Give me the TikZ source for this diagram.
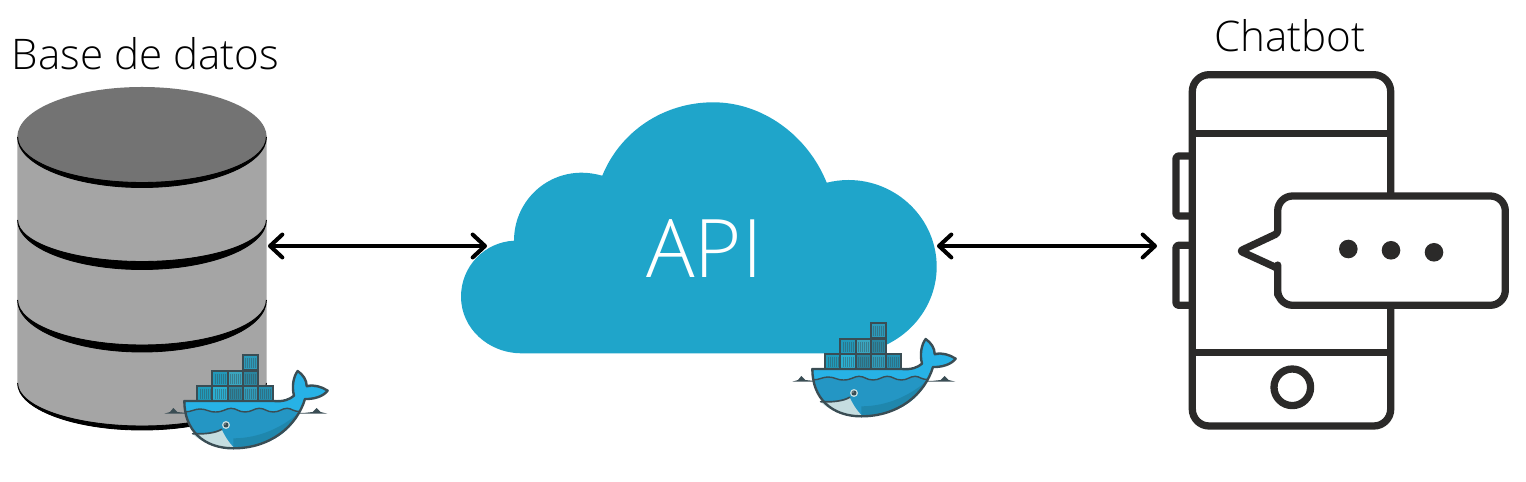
\documentclass[tikz,border=0pt]{standalone}
\usepackage{fontspec}
\setmainfont{Open Sans}
\newfontfamily\apifont{Open Sans Light}
\usepackage{xcolor}
\usetikzlibrary{arrows.meta,positioning}
\definecolor{mcloud}{HTML}{1FA5CA}
\definecolor{mbody}{HTML}{A5A5A5}
\definecolor{mtop}{HTML}{737373}
\definecolor{mphone}{HTML}{2B2A29}
\definecolor{mhull}{HTML}{3A4D54}
\definecolor{msea}{HTML}{2496C4}
\definecolor{mdeep}{HTML}{1F87AD}
\definecolor{msky}{HTML}{27B2E6}
\definecolor{mjaw}{HTML}{C5DDE0}
\tikzstyle{heading}=[anchor=base, inner sep=0pt, font=\apifont\fontsize{24}{28}\selectfont]
\tikzstyle{phone}=[draw=mphone, line width=4.15pt, line join=round]
\tikzstyle{link}=[black, line width=2.1pt, {Straight Barb[length=7pt,width=13pt,line width=2.3pt,round]}-{Straight Barb[length=7pt,width=13pt,line width=2.3pt,round]}]
\tikzstyle{hull}=[draw=mhull, line width=1.35pt, line join=round]
\tikzset{
  whale/.pic={
    \begin{scope}[x=0.006667cm,y=-0.006667cm]
      % sea line
      \fill[mhull] (43,221) -- (60,216) -- (70,204) -- (82,216) -- (110,219) -- (460,219) -- (488,216) -- (500,204) -- (512,216) -- (532,221) -- cycle;
      % containers
      \foreach \bx/\by/\bw/\bcol in {142/138/45/1F9CBC,187/138/46/2AB0D2,233/138/46/2A86A0,279/138/45/2F9CBA,324/138/45/2590B0,
                                     187/93/46/2299BA,233/93/46/3AA6C0,279/93/45/2A86A0,279/46/45/2C9ABA}{
        \definecolor{mbox}{HTML}{\bcol}
        \fill[mbox] (\bx,\by) rectangle +(\bw,45);
        \foreach \sx in {8,14,...,38}
          \draw[mhull, opacity=.45, line width=.35pt] (\bx+\sx,\by+8) -- (\bx+\sx,\by+38);
        \draw[mhull, line width=1.05pt] (\bx,\by) rectangle +(\bw,45);
      }
      % body
      \path[fill=msea] (103,183) -- (370,183) .. controls (400,186) and (420,178) .. (432,167)
        .. controls (425,140) and (430,110) .. (443,93) .. controls (460,105) and (470,120) .. (470,138)
        .. controls (490,133) and (515,140) .. (533,152) .. controls (520,170) and (490,178) .. (465,177)
        .. controls (440,260) and (360,325) .. (250,325) .. controls (160,325) and (103,270) .. (103,183) -- cycle;
      \fill[mdeep] (250,295) .. controls (330,295) and (400,260) .. (447,218) .. controls (420,280) and (350,325) .. (250,325) -- cycle;
      \fill[msky] (106,186) -- (370,186) .. controls (400,189) and (420,181) .. (434,170)
        .. controls (428,140) and (432,115) .. (443,97) .. controls (458,110) and (467,125) .. (468,145)
        .. controls (490,137) and (510,143) .. (528,152) .. controls (515,167) and (490,175) .. (462,174)
        -- (452,214) .. controls (430,216) and (425,205) .. (412,205) .. controls (395,205) and (390,216) .. (370,216)
        .. controls (350,216) and (345,205) .. (328,205) .. controls (312,205) and (305,216) .. (285,216)
        .. controls (265,216) and (260,205) .. (243,205) .. controls (228,205) and (220,216) .. (197,216)
        .. controls (175,216) and (170,207) .. (150,207) .. controls (135,207) and (125,215) .. (106,215) -- cycle;
      \fill[mjaw] (128,282) .. controls (160,283) and (195,280) .. (215,268) .. controls (225,290) and (238,310) .. (252,323)
        .. controls (205,322) and (155,310) .. (128,282) -- cycle;
      \draw[mhull, line width=.95pt, line cap=round] (128,281) .. controls (160,283) and (195,280) .. (215,268);
      \draw[mhull, line width=.8pt] (105,216) .. controls (125,215) and (135,207) .. (150,207) .. controls (170,207) and (175,216) .. (197,216)
        .. controls (220,216) and (228,205) .. (243,205) .. controls (260,205) and (265,216) .. (285,216)
        .. controls (305,216) and (312,205) .. (328,205) .. controls (345,205) and (350,216) .. (370,216)
        .. controls (390,216) and (395,205) .. (412,205) .. controls (425,205) and (430,216) .. (452,214);
      \path[hull] (103,183) -- (370,183) .. controls (400,186) and (420,178) .. (432,167)
        .. controls (425,140) and (430,110) .. (443,93) .. controls (460,105) and (470,120) .. (470,138)
        .. controls (490,133) and (515,140) .. (533,152) .. controls (520,170) and (490,178) .. (465,177)
        .. controls (440,260) and (360,325) .. (250,325) .. controls (160,325) and (103,270) .. (103,183) -- cycle;
      % eye
      \fill[mjaw] (228,255) circle (12);
      \fill[mhull] (228,255) circle (7.5);
      \fill[white] (225,252) circle (2);
    \end{scope}
  }
}
\begin{document}
\begin{tikzpicture}[x=0.02cm,y=-0.02cm]
    \useasboundingbox (0,0) rectangle (1526,482);

    % database
    \fill[mbody] (17.3,137) -- (17.3,383) .. controls (17.3,409) and (73,430) .. (142,430) .. controls (211,430) and (266.7,409) .. (266.7,383) -- (266.7,137) -- cycle;
    \fill[mtop] (142,137) circle [x radius=124.7, y radius=50];
    \foreach \ya/\ro/\ri in {137/50.5/45.5, 220/49.5/41.5, 300/52/45, 383/47/43}
        \filldraw[black, line width=.5pt] (17.6,\ya) .. controls (17.6,\ya+.55*\ro) and (73.4,\ya+\ro) .. (142,\ya+\ro) .. controls (210.6,\ya+\ro) and (266.4,\ya+.55*\ro) .. (266.4,\ya)
            .. controls (266.4,\ya+.55*\ri) and (210.6,\ya+\ri) .. (142,\ya+\ri) .. controls (73.4,\ya+\ri) and (17.6,\ya+.55*\ri) .. (17.6,\ya) -- cycle;
    \coordinate (dbport) at (268,246);
    \node (dbtitle) [heading] at (145.5,70) {Base de datos};
    \pic (dbwhale) at (150,340) {whale};

    % cloud
    \fill[mcloud] (521.7,353.3) .. controls (488,353.3) and (461,328) .. (461,296.7)
        .. controls (461,266) and (485,242) .. (514,240.7)
        .. controls (514,203) and (544,172.7) .. (581.7,172.7)
        .. controls (589,172.7) and (596,174) .. (602.3,175.7)
        .. controls (620,132) and (663,102.3) .. (713.3,102.3)
        .. controls (763,102.3) and (808,136) .. (826.7,182.7)
        .. controls (834,181) and (841,180) .. (848.3,180)
        .. controls (897,180) and (936.7,219) .. (936.7,266.7)
        .. controls (936.7,314) and (897,353.3) .. (848,353.3) -- cycle;
    \node (apititle) [anchor=base, inner sep=0pt, text=white, font=\apifont\fontsize{46}{50}\selectfont] at (704.5,277.7) {API};
    \coordinate (apiwest) at (487,246);
    \coordinate (apieast) at (937,246);
    \pic (apiwhale) at (778,308) {whale};

    % phone
    \draw[phone] (1192.3,156) -- (1179,156) [rounded corners=1.5pt] -- (1176,156) -- (1176,216) -- (1192.3,216);
    \draw[phone] (1192.3,245.3) -- (1179,245.3) [rounded corners=1.5pt] -- (1176,245.3) -- (1176,305.3) -- (1192.3,305.3);
    \draw[phone, rounded corners=9.6pt] (1192.3,74.7) rectangle (1390.7,426);
    \draw[phone] (1192.3,133.3) -- (1390.7,133.3) (1192.3,352.7) -- (1390.7,352.7);
    \draw[phone] (1292.3,387.3) circle (18.3);
    \path[phone, fill=white, rounded corners=1.5pt] (1240,251) -- (1277.7,233.3) -- (1277.7,222) [rounded corners=8.5pt] |- (1505.3,196) |- (1277.7,305.3) -- (1277.7,280) [rounded corners=1.5pt] -- (1277.7,268.3) -- cycle;
    \foreach \dx/\dy in {1348.3/249, 1391/250.3, 1434/252.3}
        \fill[mphone] (\dx,\dy) circle (9.3);
    \coordinate (phoneport) at (1157,246);
    \node (bottitle) [heading] at (1290,52) {Chatbot};

    \draw[link] (dbport) -- (apiwest);
    \draw[link] (apieast) -- (phoneport);
\end{tikzpicture}
\end{document}
